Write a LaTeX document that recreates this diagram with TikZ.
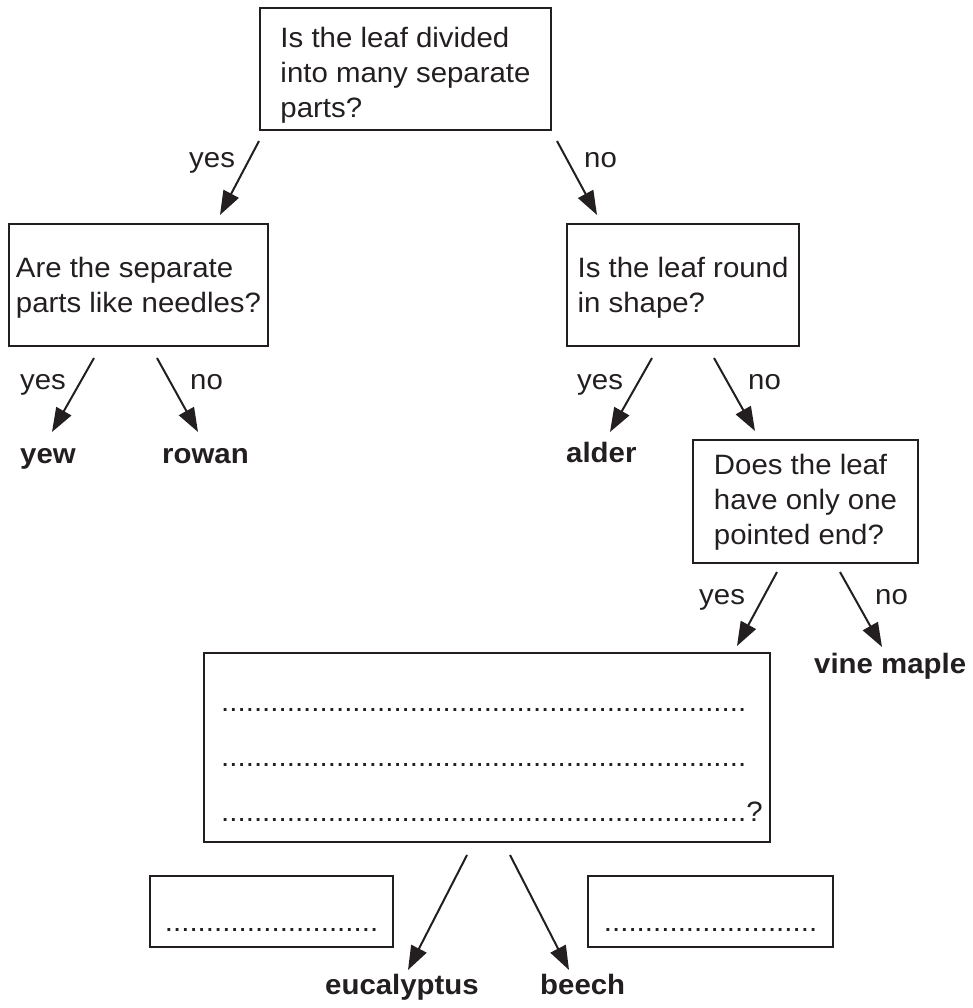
\documentclass[tikz,border=0pt]{standalone}
\usepackage{fontspec}
\setmainfont{Liberation Sans}[FakeStretch=1.05]
\usetikzlibrary{arrows.meta,calc}
\definecolor{ink}{HTML}{231F20}
\newcommand{\dotrow}[1]{\hbox to #1{\leaders\hbox to 8.2pt{\hss.\hss}\hfill}}
\newcommand{\topgap}[1]{\rule{0pt}{#1}}

\begin{document}
\begin{tikzpicture}[x=1pt,y=-1pt,font={\fontsize{28}{35}\selectfont},color=ink,
  qbox/.style={draw,line width=2pt,align=left,inner sep=0pt},
  lab/.style={anchor=base west,inner sep=0pt},
  leaf/.style={lab,font={\fontsize{28}{35}\selectfont\bfseries}},
  arr/.style={line width=2pt,-{Triangle[length=24pt,width=17pt]}}]
  \path[use as bounding box] (0,0) rectangle (972,1008);
  % question boxes, placed at pixel centres
  \node[qbox,minimum width=291pt,minimum height=122pt] (q1) at (405.5,69) {\topgap{32pt}Is the leaf divided\\into many separate\\parts?};
  \node[qbox,minimum width=259pt,minimum height=122pt] (q2) at (138.5,285) {\topgap{25pt}Are the separate\\parts like needles?};
  \node[qbox,minimum width=232pt,minimum height=122pt] (q3) at (683,285) {\topgap{25pt}Is the leaf round\\in shape?};
  \node[qbox,minimum width=225pt,minimum height=123pt] (q4) at (805.5,501.5) {\topgap{21pt}Does the leaf\\have only one\\pointed end?};
  \node[qbox,minimum width=566pt,minimum height=189pt] (q5) at (487,747.5) {};
  \foreach \r/\yy in {1/711,2/766}
    \node[lab] (row\r) at (221,\yy) {\dotrow{524.8pt}};
  \node[lab] (row3) at (221,821) {\dotrow{524.8pt}?};

  % empty answer boxes
  \node[qbox,minimum width=243pt,text height=39pt,text depth=0pt,inner ysep=16pt] (a1) at (271.5,911.5) {\dotrow{213.2pt}};
  \node[qbox,minimum width=245pt,text height=39pt,text depth=0pt,inner ysep=16pt] (a2) at (710.5,911.5) {\dotrow{213.2pt}};

  % trees
  \node[leaf] (yew) at (20,463) {yew};
  \node[leaf] (rowan) at (162,463) {rowan};
  \node[leaf] (alder) at (566,462) {alder};
  \node[leaf] (vine) at (814,673) {vine maple};
  \node[leaf] (euc) at (325,994) {eucalyptus};
  \node[leaf] (beech) at (540,994) {beech};

  \foreach \n/\t/\x/\y in {y1/yes/189/168,n1/no/584/168,y2/yes/20/389,n2/no/190/389,
    y3/yes/577/389,n3/no/748/389,y4/yes/699/604,n4/no/875/604}
    \node[lab] (\n) at (\x,\y) {\t};

  \draw[arr] ($(q1.south west)+(0,10)$) -- ($(q2.north east)+(-49,-8)$);
  \draw[arr] ($(q1.south east)+(5,10)$) -- ($(q3.north west)+(31,-8)$);
  \draw[arr] ($(q2.south)+(-44.5,11)$) -- ($(yew.base west)+(32,-31)$);
  \draw[arr] ($(q2.south)+(18.5,11)$) -- ($(rowan.base west)+(36,-31)$);
  \draw[arr] ($(q3.south)+(-31,11)$) -- ($(alder.base west)+(44,-30)$);
  \draw[arr] ($(q3.south)+(31,11)$) -- ($(q4.north west)+(63,-8)$);
  \draw[arr] ($(q4.south)+(-28.5,8)$) -- ($(q5.north east)+(-34,-6)$);
  \draw[arr] ($(q4.south)+(34.5,8)$) -- ($(vine.base west)+(68,-26)$);
  \draw[arr] ($(q5.south)+(-20,12)$) -- ($(euc.base west)+(83,-24)$);
  \draw[arr] ($(q5.south)+(23,12)$) -- ($(beech.base west)+(29,-24)$);
\end{tikzpicture}
\end{document}
